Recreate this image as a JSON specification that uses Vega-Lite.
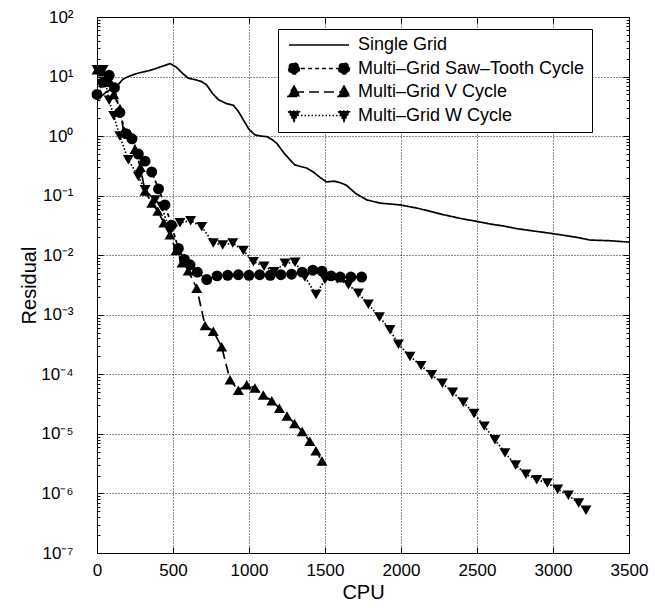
{
  "$schema": "https://vega.github.io/schema/vega-lite/v6.json",
  "width": 532,
  "height": 536,
  "autosize": "none",
  "padding": {"left": 97, "top": 17, "right": 26, "bottom": 57},
  "background": "white",
  "config": {
    "font": "Liberation Sans",
    "view": {"stroke": "black", "strokeWidth": 1},
    "axis": {"labelColor": "black", "titleColor": "black", "labelFont": "Liberation Sans", "titleFont": "Liberation Sans", "titleFontWeight": "normal", "domain": false, "tickColor": "black"}
  },
  "datasets": {
    "main": [
      {"series": "Single Grid", "cpu": 0, "residual": 4},
      {"series": "Single Grid", "cpu": 60, "residual": 5.5},
      {"series": "Single Grid", "cpu": 129, "residual": 6.8},
      {"series": "Single Grid", "cpu": 170, "residual": 9},
      {"series": "Single Grid", "cpu": 206, "residual": 10},
      {"series": "Single Grid", "cpu": 250, "residual": 11},
      {"series": "Single Grid", "cpu": 294, "residual": 11.8},
      {"series": "Single Grid", "cpu": 340, "residual": 12.5},
      {"series": "Single Grid", "cpu": 393, "residual": 13.8},
      {"series": "Single Grid", "cpu": 440, "residual": 15.2},
      {"series": "Single Grid", "cpu": 480, "residual": 16.5},
      {"series": "Single Grid", "cpu": 520, "residual": 14.5},
      {"series": "Single Grid", "cpu": 560, "residual": 11.5},
      {"series": "Single Grid", "cpu": 600, "residual": 9.4},
      {"series": "Single Grid", "cpu": 650, "residual": 8.8},
      {"series": "Single Grid", "cpu": 690, "residual": 8.2},
      {"series": "Single Grid", "cpu": 722, "residual": 7.2},
      {"series": "Single Grid", "cpu": 760, "residual": 5.2},
      {"series": "Single Grid", "cpu": 798, "residual": 4.1},
      {"series": "Single Grid", "cpu": 853, "residual": 3.5},
      {"series": "Single Grid", "cpu": 897, "residual": 3.3},
      {"series": "Single Grid", "cpu": 930, "residual": 2.6},
      {"series": "Single Grid", "cpu": 963, "residual": 1.87},
      {"series": "Single Grid", "cpu": 1000, "residual": 1.3},
      {"series": "Single Grid", "cpu": 1039, "residual": 1.05},
      {"series": "Single Grid", "cpu": 1080, "residual": 1.0},
      {"series": "Single Grid", "cpu": 1116, "residual": 0.98},
      {"series": "Single Grid", "cpu": 1150, "residual": 0.88},
      {"series": "Single Grid", "cpu": 1182, "residual": 0.76},
      {"series": "Single Grid", "cpu": 1230, "residual": 0.52},
      {"series": "Single Grid", "cpu": 1270, "residual": 0.4},
      {"series": "Single Grid", "cpu": 1300, "residual": 0.33},
      {"series": "Single Grid", "cpu": 1336, "residual": 0.31},
      {"series": "Single Grid", "cpu": 1380, "residual": 0.29},
      {"series": "Single Grid", "cpu": 1423, "residual": 0.25},
      {"series": "Single Grid", "cpu": 1470, "residual": 0.2},
      {"series": "Single Grid", "cpu": 1511, "residual": 0.17},
      {"series": "Single Grid", "cpu": 1560, "residual": 0.175},
      {"series": "Single Grid", "cpu": 1600, "residual": 0.165},
      {"series": "Single Grid", "cpu": 1640, "residual": 0.15},
      {"series": "Single Grid", "cpu": 1700, "residual": 0.11},
      {"series": "Single Grid", "cpu": 1774, "residual": 0.085},
      {"series": "Single Grid", "cpu": 1862, "residual": 0.075},
      {"series": "Single Grid", "cpu": 1993, "residual": 0.07},
      {"series": "Single Grid", "cpu": 2103, "residual": 0.062},
      {"series": "Single Grid", "cpu": 2200, "residual": 0.054},
      {"series": "Single Grid", "cpu": 2278, "residual": 0.048},
      {"series": "Single Grid", "cpu": 2400, "residual": 0.041},
      {"series": "Single Grid", "cpu": 2498, "residual": 0.037},
      {"series": "Single Grid", "cpu": 2600, "residual": 0.033},
      {"series": "Single Grid", "cpu": 2673, "residual": 0.031},
      {"series": "Single Grid", "cpu": 2760, "residual": 0.028},
      {"series": "Single Grid", "cpu": 2849, "residual": 0.026},
      {"series": "Single Grid", "cpu": 3002, "residual": 0.023},
      {"series": "Single Grid", "cpu": 3100, "residual": 0.021},
      {"series": "Single Grid", "cpu": 3156, "residual": 0.020},
      {"series": "Single Grid", "cpu": 3243, "residual": 0.018},
      {"series": "Single Grid", "cpu": 3375, "residual": 0.0175},
      {"series": "Single Grid", "cpu": 3500, "residual": 0.0166},

      {"series": "Multi–Grid Saw–Tooth Cycle", "cpu": 0, "residual": 5.0},
      {"series": "Multi–Grid Saw–Tooth Cycle", "cpu": 40, "residual": 8},
      {"series": "Multi–Grid Saw–Tooth Cycle", "cpu": 80, "residual": 10.5},
      {"series": "Multi–Grid Saw–Tooth Cycle", "cpu": 115, "residual": 6.5},
      {"series": "Multi–Grid Saw–Tooth Cycle", "cpu": 150, "residual": 2.5},
      {"series": "Multi–Grid Saw–Tooth Cycle", "cpu": 190, "residual": 1.1},
      {"series": "Multi–Grid Saw–Tooth Cycle", "cpu": 230, "residual": 0.9},
      {"series": "Multi–Grid Saw–Tooth Cycle", "cpu": 272, "residual": 0.5},
      {"series": "Multi–Grid Saw–Tooth Cycle", "cpu": 316, "residual": 0.38},
      {"series": "Multi–Grid Saw–Tooth Cycle", "cpu": 360, "residual": 0.25},
      {"series": "Multi–Grid Saw–Tooth Cycle", "cpu": 405, "residual": 0.13},
      {"series": "Multi–Grid Saw–Tooth Cycle", "cpu": 447, "residual": 0.07},
      {"series": "Multi–Grid Saw–Tooth Cycle", "cpu": 490, "residual": 0.032},
      {"series": "Multi–Grid Saw–Tooth Cycle", "cpu": 535, "residual": 0.013},
      {"series": "Multi–Grid Saw–Tooth Cycle", "cpu": 575, "residual": 0.0085},
      {"series": "Multi–Grid Saw–Tooth Cycle", "cpu": 612, "residual": 0.0069},
      {"series": "Multi–Grid Saw–Tooth Cycle", "cpu": 660, "residual": 0.0052},
      {"series": "Multi–Grid Saw–Tooth Cycle", "cpu": 722, "residual": 0.0039},
      {"series": "Multi–Grid Saw–Tooth Cycle", "cpu": 790, "residual": 0.0045},
      {"series": "Multi–Grid Saw–Tooth Cycle", "cpu": 860, "residual": 0.0046},
      {"series": "Multi–Grid Saw–Tooth Cycle", "cpu": 930, "residual": 0.0047},
      {"series": "Multi–Grid Saw–Tooth Cycle", "cpu": 1000, "residual": 0.0046},
      {"series": "Multi–Grid Saw–Tooth Cycle", "cpu": 1070, "residual": 0.0047},
      {"series": "Multi–Grid Saw–Tooth Cycle", "cpu": 1140, "residual": 0.0046},
      {"series": "Multi–Grid Saw–Tooth Cycle", "cpu": 1210, "residual": 0.0047},
      {"series": "Multi–Grid Saw–Tooth Cycle", "cpu": 1280, "residual": 0.0048},
      {"series": "Multi–Grid Saw–Tooth Cycle", "cpu": 1350, "residual": 0.0052},
      {"series": "Multi–Grid Saw–Tooth Cycle", "cpu": 1420, "residual": 0.0056},
      {"series": "Multi–Grid Saw–Tooth Cycle", "cpu": 1480, "residual": 0.0054},
      {"series": "Multi–Grid Saw–Tooth Cycle", "cpu": 1540, "residual": 0.0045},
      {"series": "Multi–Grid Saw–Tooth Cycle", "cpu": 1600, "residual": 0.0043},
      {"series": "Multi–Grid Saw–Tooth Cycle", "cpu": 1670, "residual": 0.0043},
      {"series": "Multi–Grid Saw–Tooth Cycle", "cpu": 1741, "residual": 0.0043},

      {"series": "Multi–Grid V Cycle", "cpu": 0, "residual": 13},
      {"series": "Multi–Grid V Cycle", "cpu": 40, "residual": 12},
      {"series": "Multi–Grid V Cycle", "cpu": 80, "residual": 8},
      {"series": "Multi–Grid V Cycle", "cpu": 110, "residual": 5},
      {"series": "Multi–Grid V Cycle", "cpu": 151, "residual": 2.9},
      {"series": "Multi–Grid V Cycle", "cpu": 175, "residual": 1.2},
      {"series": "Multi–Grid V Cycle", "cpu": 215, "residual": 1.1},
      {"series": "Multi–Grid V Cycle", "cpu": 250, "residual": 0.6},
      {"series": "Multi–Grid V Cycle", "cpu": 285, "residual": 0.3},
      {"series": "Multi–Grid V Cycle", "cpu": 316, "residual": 0.12},
      {"series": "Multi–Grid V Cycle", "cpu": 360, "residual": 0.075},
      {"series": "Multi–Grid V Cycle", "cpu": 400, "residual": 0.055},
      {"series": "Multi–Grid V Cycle", "cpu": 440, "residual": 0.035},
      {"series": "Multi–Grid V Cycle", "cpu": 480, "residual": 0.022},
      {"series": "Multi–Grid V Cycle", "cpu": 520, "residual": 0.012},
      {"series": "Multi–Grid V Cycle", "cpu": 560, "residual": 0.0075},
      {"series": "Multi–Grid V Cycle", "cpu": 600, "residual": 0.0055},
      {"series": "Multi–Grid V Cycle", "cpu": 656, "residual": 0.0028},
      {"series": "Multi–Grid V Cycle", "cpu": 711, "residual": 0.00066},
      {"series": "Multi–Grid V Cycle", "cpu": 765, "residual": 0.00053},
      {"series": "Multi–Grid V Cycle", "cpu": 820, "residual": 0.00029},
      {"series": "Multi–Grid V Cycle", "cpu": 875, "residual": 0.000081},
      {"series": "Multi–Grid V Cycle", "cpu": 930, "residual": 0.000054},
      {"series": "Multi–Grid V Cycle", "cpu": 985, "residual": 0.000067},
      {"series": "Multi–Grid V Cycle", "cpu": 1039, "residual": 0.000059},
      {"series": "Multi–Grid V Cycle", "cpu": 1094, "residual": 0.000045},
      {"series": "Multi–Grid V Cycle", "cpu": 1150, "residual": 0.000036},
      {"series": "Multi–Grid V Cycle", "cpu": 1200, "residual": 0.000027},
      {"series": "Multi–Grid V Cycle", "cpu": 1250, "residual": 0.00002},
      {"series": "Multi–Grid V Cycle", "cpu": 1300, "residual": 0.000015},
      {"series": "Multi–Grid V Cycle", "cpu": 1350, "residual": 0.000011},
      {"series": "Multi–Grid V Cycle", "cpu": 1400, "residual": 0.0000075},
      {"series": "Multi–Grid V Cycle", "cpu": 1440, "residual": 0.0000052},
      {"series": "Multi–Grid V Cycle", "cpu": 1480, "residual": 0.0000035},

      {"series": "Multi–Grid W Cycle", "cpu": 0, "residual": 13},
      {"series": "Multi–Grid W Cycle", "cpu": 40, "residual": 13},
      {"series": "Multi–Grid W Cycle", "cpu": 80, "residual": 4},
      {"series": "Multi–Grid W Cycle", "cpu": 110, "residual": 2.2},
      {"series": "Multi–Grid W Cycle", "cpu": 150, "residual": 1.0},
      {"series": "Multi–Grid W Cycle", "cpu": 206, "residual": 0.4},
      {"series": "Multi–Grid W Cycle", "cpu": 272, "residual": 0.21},
      {"series": "Multi–Grid W Cycle", "cpu": 316, "residual": 0.126},
      {"series": "Multi–Grid W Cycle", "cpu": 382, "residual": 0.085},
      {"series": "Multi–Grid W Cycle", "cpu": 425, "residual": 0.066},
      {"series": "Multi–Grid W Cycle", "cpu": 480, "residual": 0.025},
      {"series": "Multi–Grid W Cycle", "cpu": 546, "residual": 0.035},
      {"series": "Multi–Grid W Cycle", "cpu": 616, "residual": 0.038},
      {"series": "Multi–Grid W Cycle", "cpu": 689, "residual": 0.03},
      {"series": "Multi–Grid W Cycle", "cpu": 765, "residual": 0.016},
      {"series": "Multi–Grid W Cycle", "cpu": 827, "residual": 0.0148},
      {"series": "Multi–Grid W Cycle", "cpu": 893, "residual": 0.016},
      {"series": "Multi–Grid W Cycle", "cpu": 963, "residual": 0.012},
      {"series": "Multi–Grid W Cycle", "cpu": 1029, "residual": 0.0078},
      {"series": "Multi–Grid W Cycle", "cpu": 1099, "residual": 0.0065},
      {"series": "Multi–Grid W Cycle", "cpu": 1164, "residual": 0.0053},
      {"series": "Multi–Grid W Cycle", "cpu": 1237, "residual": 0.0073},
      {"series": "Multi–Grid W Cycle", "cpu": 1303, "residual": 0.0076},
      {"series": "Multi–Grid W Cycle", "cpu": 1368, "residual": 0.0043},
      {"series": "Multi–Grid W Cycle", "cpu": 1441, "residual": 0.0022},
      {"series": "Multi–Grid W Cycle", "cpu": 1500, "residual": 0.0039},
      {"series": "Multi–Grid W Cycle", "cpu": 1581, "residual": 0.004},
      {"series": "Multi–Grid W Cycle", "cpu": 1654, "residual": 0.0032},
      {"series": "Multi–Grid W Cycle", "cpu": 1719, "residual": 0.0023},
      {"series": "Multi–Grid W Cycle", "cpu": 1785, "residual": 0.0015},
      {"series": "Multi–Grid W Cycle", "cpu": 1858, "residual": 0.00092},
      {"series": "Multi–Grid W Cycle", "cpu": 1928, "residual": 0.00056},
      {"series": "Multi–Grid W Cycle", "cpu": 1983, "residual": 0.00032},
      {"series": "Multi–Grid W Cycle", "cpu": 2059, "residual": 0.0002},
      {"series": "Multi–Grid W Cycle", "cpu": 2132, "residual": 0.00014},
      {"series": "Multi–Grid W Cycle", "cpu": 2202, "residual": 0.000098},
      {"series": "Multi–Grid W Cycle", "cpu": 2272, "residual": 0.000071},
      {"series": "Multi–Grid W Cycle", "cpu": 2340, "residual": 0.00005},
      {"series": "Multi–Grid W Cycle", "cpu": 2410, "residual": 0.000034},
      {"series": "Multi–Grid W Cycle", "cpu": 2480, "residual": 0.000022},
      {"series": "Multi–Grid W Cycle", "cpu": 2548, "residual": 0.0000135},
      {"series": "Multi–Grid W Cycle", "cpu": 2618, "residual": 0.000008},
      {"series": "Multi–Grid W Cycle", "cpu": 2684, "residual": 0.0000048},
      {"series": "Multi–Grid W Cycle", "cpu": 2754, "residual": 0.000003},
      {"series": "Multi–Grid W Cycle", "cpu": 2822, "residual": 0.0000021},
      {"series": "Multi–Grid W Cycle", "cpu": 2893, "residual": 0.0000017},
      {"series": "Multi–Grid W Cycle", "cpu": 2963, "residual": 0.0000015},
      {"series": "Multi–Grid W Cycle", "cpu": 3031, "residual": 0.00000118},
      {"series": "Multi–Grid W Cycle", "cpu": 3101, "residual": 0.00000093},
      {"series": "Multi–Grid W Cycle", "cpu": 3169, "residual": 0.00000069},
      {"series": "Multi–Grid W Cycle", "cpu": 3217, "residual": 0.00000052}
    ]
  },
  "data": {"name": "main"},
  "layer": [
    {
      "layer": [
        {
          "mark": {"type": "line", "color": "black", "strokeWidth": 1.7},
          "encoding": {
            "x": {"field": "cpu", "type": "quantitative", "scale": {"domain": [0, 3500], "nice": false, "zero": false},
              "axis": {"orient": "bottom", "values": [0, 500, 1000, 1500, 2000, 2500, 3000, 3500], "format": "d", "labelFontSize": 17, "labelPadding": 15, "tickSize": -6, "grid": true, "gridColor": "black", "gridDash": [1, 2], "gridOpacity": 0.9, "title": "CPU", "titleFontSize": 20, "titlePadding": 4, "labelFlush": false}},
            "y": {"field": "residual", "type": "quantitative", "scale": {"type": "log", "domain": [1e-7, 100], "nice": false},
              "axis": {"orient": "left",
                "values": [1e-7,2e-7,3e-7,4e-7,5e-7,6e-7,7e-7,8e-7,9e-7,1e-6,2e-6,3e-6,4e-6,5e-6,6e-6,7e-6,8e-6,9e-6,1e-5,2e-5,3e-5,4e-5,5e-5,6e-5,7e-5,8e-5,9e-5,1e-4,2e-4,3e-4,4e-4,5e-4,6e-4,7e-4,8e-4,9e-4,1e-3,2e-3,3e-3,4e-3,5e-3,6e-3,7e-3,8e-3,9e-3,0.01,0.02,0.03,0.04,0.05,0.06,0.07,0.08,0.09,0.1,0.2,0.3,0.4,0.5,0.6,0.7,0.8,0.9,1,2,3,4,5,6,7,8,9,10,20,30,40,50,60,70,80,90,100],
                "labelExpr": "abs(log(datum.value)/LN10 - round(log(datum.value)/LN10)) > 0.01 ? '' : '10' + {'2':'²','1':'¹','0':'⁰','-1':'⁻¹','-2':'⁻²','-3':'⁻³','-4':'⁻⁴','-5':'⁻⁵','-6':'⁻⁶','-7':'⁻⁷'}['' + round(log(datum.value)/LN10)]",
                "labelFontSize": 17, "labelPadding": 30, "labelOverlap": false,
                "tickSize": {"condition": {"test": "abs(log(datum.value)/LN10 - round(log(datum.value)/LN10)) > 0.01", "value": -3}, "value": -6},
                "grid": true, "gridColor": "black", "gridDash": [1, 2],
                "gridOpacity": {"condition": {"test": "abs(log(datum.value)/LN10 - round(log(datum.value)/LN10)) > 0.01", "value": 0}, "value": 0.9},
                "title": "Residual", "titleFontSize": 20, "titlePadding": 1}},
            "strokeDash": {"field": "series", "type": "nominal",
              "scale": {"domain": ["Single Grid", "Multi–Grid Saw–Tooth Cycle", "Multi–Grid V Cycle", "Multi–Grid W Cycle"], "range": [[1, 0], [4, 3], [10, 5], [1.5, 2]]},
              "legend": {"orient": "none", "legendX": 181, "legendY": 12, "title": null, "padding": 7,
                "fillColor": "white", "strokeColor": "black",
                "labelFont": "Liberation Sans", "labelFontSize": 18, "labelColor": "black", "labelOffset": 55, "labelLimit": 0,
                "symbolSize": 100, "symbolStrokeWidth": 1.5, "symbolStrokeColor": "black", "symbolFillColor": "black", "rowPadding": 5.5,
                "encode": {"symbols": {"update": {
                  "shape": {"signal": "datum.value === 'Multi–Grid Saw–Tooth Cycle' ? 'M0,0H10M-1.1,0A1.1,1.1,0,1,0,1.1,0A1.1,1.1,0,1,0,-1.1,0M8.9,0A1.1,1.1,0,1,0,11.1,0A1.1,1.1,0,1,0,8.9,0' : datum.value === 'Multi–Grid V Cycle' ? 'M0,0H10M0,-1.2L1.2,0.9L-1.2,0.9ZM10,-1.2L11.2,0.9L8.8,0.9Z' : datum.value === 'Multi–Grid W Cycle' ? 'M0,0H10M0,1.2L1.2,-0.9L-1.2,-0.9ZM10,1.2L11.2,-0.9L8.8,-0.9Z' : 'M-1,0H11'"},
                  "fill": {"value": "black"}, "stroke": {"value": "black"}, "strokeWidth": {"value": 1.5}, "opacity": {"value": 1}}}}}}
          }
        },
        {
          "transform": [{"filter": "datum.series !== 'Single Grid'"}],
          "mark": {"type": "point", "filled": true, "color": "black", "opacity": 1, "size": 120},
          "encoding": {
            "x": {"field": "cpu", "type": "quantitative"},
            "y": {"field": "residual", "type": "quantitative"},
            "shape": {"field": "series", "type": "nominal", "legend": null,
              "scale": {"domain": ["Multi–Grid Saw–Tooth Cycle", "Multi–Grid V Cycle", "Multi–Grid W Cycle"], "range": ["circle", "triangle-up", "triangle-down"]}}
          }
        }
      ]
    },
    {
      "mark": {"type": "point", "opacity": 0},
      "encoding": {
        "x": {"field": "cpu", "type": "quantitative",
          "axis": {"orient": "top", "values": [0, 500, 1000, 1500, 2000, 2500, 3000, 3500], "labels": false, "tickSize": -6, "grid": false, "title": null}},
        "y": {"field": "residual", "type": "quantitative",
          "axis": {"orient": "right",
            "values": [1e-7,2e-7,3e-7,4e-7,5e-7,6e-7,7e-7,8e-7,9e-7,1e-6,2e-6,3e-6,4e-6,5e-6,6e-6,7e-6,8e-6,9e-6,1e-5,2e-5,3e-5,4e-5,5e-5,6e-5,7e-5,8e-5,9e-5,1e-4,2e-4,3e-4,4e-4,5e-4,6e-4,7e-4,8e-4,9e-4,1e-3,2e-3,3e-3,4e-3,5e-3,6e-3,7e-3,8e-3,9e-3,0.01,0.02,0.03,0.04,0.05,0.06,0.07,0.08,0.09,0.1,0.2,0.3,0.4,0.5,0.6,0.7,0.8,0.9,1,2,3,4,5,6,7,8,9,10,20,30,40,50,60,70,80,90,100],
            "labels": false, "grid": false, "title": null,
            "tickSize": {"condition": {"test": "abs(log(datum.value)/LN10 - round(log(datum.value)/LN10)) > 0.01", "value": -3}, "value": -6}}}
      }
    }
  ],
  "resolve": {"scale": {"x": "shared", "y": "shared"}, "axis": {"x": "independent", "y": "independent"}}
}
